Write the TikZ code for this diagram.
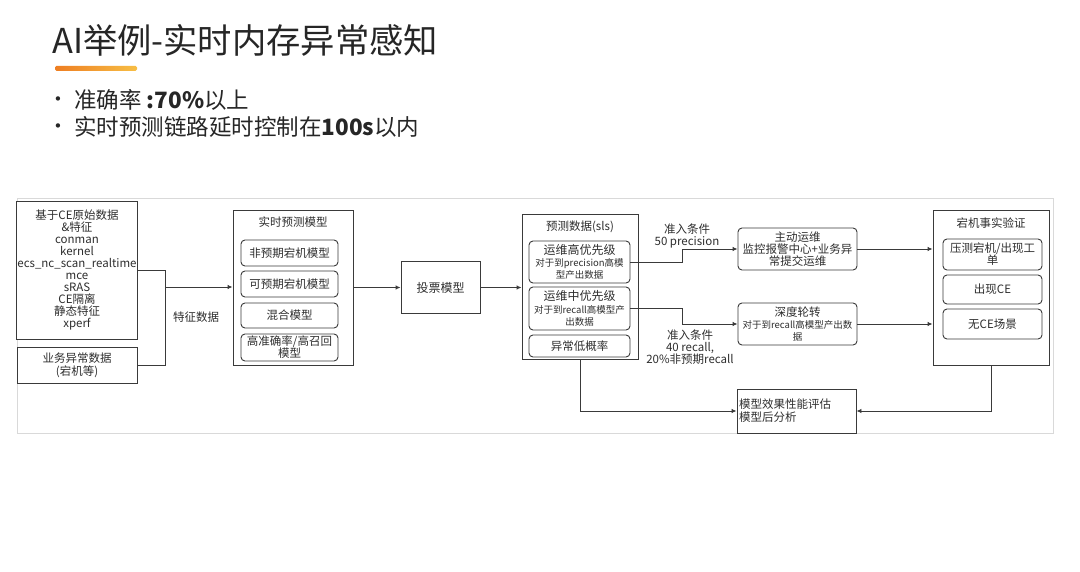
\documentclass[tikz,border=0pt]{standalone}
\usepackage{fontspec}
\setmainfont{Noto Sans CJK SC}
\newfontfamily\djv{DejaVu Sans}
\usetikzlibrary{arrows.meta}
\definecolor{lc}{HTML}{3A3A3A}
\definecolor{tc}{HTML}{2E2E2E}
\definecolor{orA}{HTML}{EE7E22}
\definecolor{orB}{HTML}{F7BE45}
\tikzset{
  box/.style={draw=lc, line width=0.9pt, fill=white, text=tc, align=center, inner sep=1pt},
  ibox/.style={box, rounded corners=4pt},
  ttl/.style={text=tc, font=\fontsize{11.5}{13}\selectfont, inner sep=0pt},
  lab/.style={text=tc, align=center, font=\fontsize{11.5}{11.8}\selectfont, inner sep=0pt},
  conn/.style={draw=lc, line width=0.9pt},
  arr/.style={conn, -{Latex[length=5pt,width=4.5pt]}},
  sm/.style={font=\fontsize{11.5}{13}\selectfont},
  head/.style={anchor=west, text=black!85, font=\fontsize{22.5}{24}\selectfont, inner sep=0pt},
  dot/.style={text=black!85, font=\djv\fontsize{15}{16}\selectfont, inner sep=0pt},
}
\begin{document}
\begin{tikzpicture}[x=1pt,y=-1pt]
\useasboundingbox[fill=white] (0,0) rectangle (1080,572);
% heading
\node[anchor=west, text=black!85, font=\fontsize{34.3}{38}\selectfont, inner sep=0pt] (title) at (52,40) {AI举例-实时内存异常感知};
\shade[left color=orA, right color=orB, rounded corners=1.5pt] (55,66) rectangle (137,71);
\node[dot] (d1) at (58,101) {•};
\node[head] (b1) at (74,100) {准确率 \textbf{:70\%}以上};
\node[dot] (d2) at (58,128) {•};
\node[head] (b2) at (74,127) {实时预测链路延时控制在\textbf{100s}以内};
% panel
\draw[draw=gray!30, line width=0.8pt, fill=white] (17,198) rectangle (1053,433);
% left boxes
\node[box, minimum width=120pt, minimum height=138pt, font=\fontsize{11.5}{12.1}\selectfont] (src) at (77,270)
  {基于CE原始数据\\\&特征\\conman\\kernel\\ecs\_nc\_scan\_realtime\\mce\\sRAS\\CE隔离\\静态特征\\xperf};
\node[box, minimum width=120pt, minimum height=36pt, font=\fontsize{11.5}{13}\selectfont] (biz) at (77,365) {业务异常数据\\(宕机等)};
\coordinate (j1) at (165,270);
\coordinate (j2) at (165,365);
\coordinate (j3) at (165,287);
\draw[conn] (src.east) -- (j1) -- (j2) -- (biz.east);
\node[lab] (tz) at (196,317) {特征数据};
% realtime models
\node[box, minimum width=120pt, minimum height=155pt] (rt) at (293,287.5) {};
\node[ttl] (rtt) at (293,222) {实时预测模型};
\node[ibox, minimum width=97pt, minimum height=26pt, sm] (m1) at (289.5,253) {非预期宕机模型};
\node[ibox, minimum width=97pt, minimum height=26pt, sm] (m2) at (289.5,284) {可预期宕机模型};
\node[ibox, minimum width=97pt, minimum height=25pt, sm] (m3) at (289.5,315.5) {混合模型};
\node[ibox, minimum width=97pt, minimum height=27pt, font=\fontsize{11.5}{12}\selectfont] (m4) at (289.5,347.5) {高准确率/高召回\\模型};
\draw[arr] (j3) -- (j3 -| rt.west);
% vote
\node[box, minimum width=79pt, minimum height=52pt, font=\fontsize{12}{13}\selectfont] (vote) at (440.5,287.5) {投票模型};
\draw[arr] (rt.east |- vote.west) -- (vote.west);
% prediction data
\node[box, minimum width=116pt, minimum height=145pt] (pred) at (580,286.5) {};
\node[ttl] (predt) at (580,227) {预测数据(sls)};
\node[ibox, minimum width=101pt, minimum height=42pt, font=\fontsize{9.5}{12.3}\selectfont] (p1) at (579.5,262)
  {{\fontsize{12}{12.3}\selectfont 运维高优先级}\\对于到precision高模\\型产出数据};
\node[ibox, minimum width=101pt, minimum height=43pt, font=\fontsize{9.5}{12.3}\selectfont] (p2) at (579.5,308.5)
  {{\fontsize{12}{12.3}\selectfont 运维中优先级}\\对于到recall高模型产\\出数据};
\node[ibox, minimum width=101pt, minimum height=22pt, font=\fontsize{11.5}{13}\selectfont] (p3) at (579.5,346) {异常低概率};
\draw[arr] (vote.east) -- (vote.east -| pred.west);
% ops / deep
\node[ibox, minimum width=119pt, minimum height=42pt, font=\fontsize{11.5}{12}\selectfont] (ops) at (797.5,249) {主动运维\\监控报警中心+业务异\\常提交运维};
\node[ibox, minimum width=119pt, minimum height=42pt, font=\fontsize{9.5}{12.3}\selectfont] (deep) at (797.5,324) {{\fontsize{11.5}{12.3}\selectfont 深度轮转}\\对于到recall高模型产出数\\据};
\coordinate (k1) at (682,262);
\coordinate (k2) at (682,249);
\coordinate (k3) at (682,308.5);
\coordinate (k4) at (682,324);
\draw[arr] (p1.east) -- (k1) -- (k2) -- (ops.west);
\draw[arr] (p2.east) -- (k3) -- (k4) -- (deep.west);
\node[lab] (c1) at (687,236) {准入条件\\50 precision};
\node[lab] (c2) at (690,347) {准入条件\\40 recall,\\20\%非预期recall};
% verification
\node[box, minimum width=116pt, minimum height=155pt] (ver) at (991,287.5) {};
\node[ttl] (vert) at (991,223) {宕机事实验证};
\node[ibox, minimum width=99pt, minimum height=31pt, font=\fontsize{11.5}{12}\selectfont] (v1) at (992.5,254.5) {压测宕机/出现工\\单};
\node[ibox, minimum width=99pt, minimum height=29pt, sm] (v2) at (992.5,289.5) {出现CE};
\node[ibox, minimum width=99pt, minimum height=30pt, sm] (v3) at (992.5,324) {无CE场景};
\draw[arr] (ops.east) -- (ops.east -| ver.west);
\draw[arr] (deep.east) -- (deep.east -| ver.west);
% evaluation
\node[box, minimum width=119pt, minimum height=44pt] (eval) at (796.5,411) {};
\node[anchor=west, text=tc, align=left, font=\fontsize{11.5}{13}\selectfont, inner sep=0pt] (evt) at (739,411) {模型效果性能评估\\模型后分析};
\draw[arr] (ver.south) -- (ver.south |- eval.east) -- (eval.east);
\draw[arr] (pred.south) |- (eval.west);
\end{tikzpicture}
\end{document}
